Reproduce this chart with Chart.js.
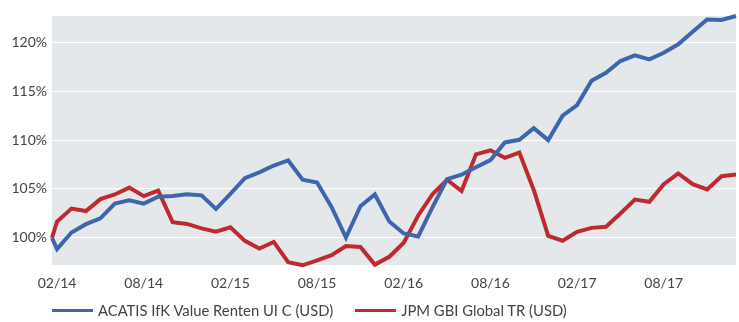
<!DOCTYPE html>
<html>
<head>
<meta charset="utf-8">
<script src="https://cdn.jsdelivr.net/npm/chart.js@4"></script>
<style>
	body { margin: 0; background: #fff; }
	#wrap { position: relative; width: 739px; height: 322px; }
	#legend {
		position: absolute; left: 52px; top: 301px;
		font: 14.8px Lato, sans-serif; color: #444;
		display: flex; align-items: center; white-space: nowrap;
	}
	#legend .item { display: flex; align-items: center; margin-right: 22px; }
	#legend .line { width: 41px; height: 3px; margin-right: 5px; }
</style>
</head>
<body>
<div id="wrap">
	<canvas id="perf"></canvas>
	<div id="legend"></div>
</div>
<script>
// month offsets: first value is the launch point, a few days before end of 02/14
var startOffset = -0.35;

var tickMonths = [0, 6, 12, 18, 24, 30, 36, 42];
var tickLabels = ["02/14", "08/14", "02/15", "08/15", "02/16", "08/16", "02/17", "08/17"];
var yTicks = [100, 105, 110, 115, 120];

var seriesNames = ["ACATIS IfK Value Renten UI C (USD)", "JPM GBI Global TR (USD)"];
var seriesColors = ["#3e66ad", "#be2a30"];

var acatis = [
	100.0, 98.85, 100.55, 101.4, 102.0, 103.5, 103.85, 103.5, 104.2, 104.27,
	104.45, 104.35, 102.95, 104.5, 106.11, 106.7, 107.4, 107.92, 105.94, 105.66,
	103.16, 100.03, 103.23, 104.44, 101.67, 100.45, 100.14, 103.16, 106.0, 106.46,
	107.22, 107.95, 109.76, 110.03, 111.22, 110.0, 112.5, 113.58, 116.07, 116.89,
	118.09, 118.67, 118.26, 118.94, 119.8, 121.09, 122.35, 122.29, 122.7
];
var jpmgbi = [
	100.0, 101.67, 102.99, 102.74, 103.96, 104.44, 105.14, 104.27, 104.83, 101.6,
	101.42, 100.97, 100.63, 101.08, 99.69, 98.9, 99.58, 97.5, 97.19, 97.7,
	98.23, 99.17, 99.06, 97.26, 98.06, 99.5, 102.29, 104.48, 105.94, 104.79,
	108.54, 108.96, 108.19, 108.72, 104.9, 100.2, 99.7, 100.61, 101.02, 101.13,
	102.49, 103.92, 103.69, 105.49, 106.59, 105.49, 104.95, 106.31, 106.48
];

function toPoints(values) {
	var pts = [];
	for (var i in values) {
		pts.push({ x: i == 0 ? startOffset : i - 1, y: values[i] });
	}
	return pts;
}

// grey plot background behind the lines
var plotBackground = {
	id: "plotBackground",
	beforeDraw: function(chart) {
		var a = chart.chartArea, ctx = chart.ctx;
		ctx.save();
		ctx.fillStyle = "#e5e8eb";
		ctx.fillRect(a.left, a.top, a.right - a.left, a.bottom - a.top);
		ctx.restore();
	}
};

var chartdata = {
	datasets: [
		{
			label: seriesNames[0],
			data: toPoints(acatis),
			borderColor: seriesColors[0],
			backgroundColor: seriesColors[0],
			borderWidth: 4,
			pointRadius: 0,
			tension: 0,
			fill: false,
			clip: 4
		},
		{
			label: seriesNames[1],
			data: toPoints(jpmgbi),
			borderColor: seriesColors[1],
			backgroundColor: seriesColors[1],
			borderWidth: 4,
			pointRadius: 0,
			tension: 0,
			fill: false,
			clip: 4
		}
	]
};

Chart.defaults.font.family = "Lato, sans-serif";
Chart.defaults.font.size = 14;
Chart.defaults.color = "#444";

var ctx = document.getElementById("perf");

var perfChart = new Chart(ctx, {
	type: "line",
	data: chartdata,
	plugins: [plotBackground],
	options: {
		responsive: true,
		maintainAspectRatio: false,
		animation: false,
		layout: { padding: { top: 16, right: 3, bottom: 20, left: 0 } },
		plugins: {
			legend: { display: false },
			tooltip: { enabled: false }
		},
		scales: {
			x: {
				type: "linear",
				min: startOffset,
				max: 47,
				afterBuildTicks: function(axis) {
					axis.ticks = tickMonths.map(function(v) { return { value: v }; });
				},
				ticks: {
					padding: 10,
					maxRotation: 0,
					autoSkip: false,
					callback: function(value) {
						return tickLabels[tickMonths.indexOf(value)];
					}
				},
				grid: { display: false, drawTicks: false },
				border: { display: false }
			},
			y: {
				min: 97.2,
				max: 122.7,
				afterBuildTicks: function(axis) {
					axis.ticks = yTicks.map(function(v) { return { value: v }; });
				},
				afterFit: function(axis) { axis.width = 52; },
				ticks: {
					padding: 5,
					callback: function(value) { return value + "%"; }
				},
				grid: { color: "#ffffff", lineWidth: 1, drawTicks: false },
				border: { display: false }
			}
		}
	}
});

// legend under the chart
var legend = document.getElementById("legend");
for (var k in seriesNames) {
	var item = document.createElement("div");
	item.className = "item";
	var line = document.createElement("span");
	line.className = "line";
	line.style.background = seriesColors[k];
	var label = document.createElement("span");
	label.textContent = seriesNames[k];
	item.appendChild(line);
	item.appendChild(label);
	legend.appendChild(item);
}
</script>
</body>
</html>
